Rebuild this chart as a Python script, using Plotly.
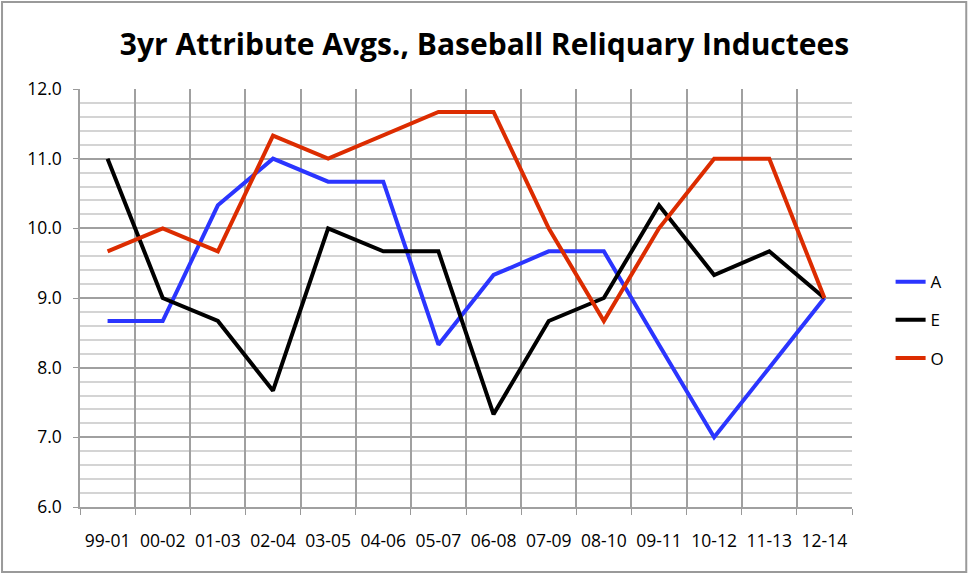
import plotly.graph_objects as go

periods = ["99-01", "00-02", "01-03", "02-04", "03-05", "04-06", "05-07",
           "06-08", "07-09", "08-10", "09-11", "10-12", "11-13", "12-14"]
a_vals = [8.67, 8.67, 10.33, 11.0, 10.67, 10.67, 8.33, 9.33, 9.67, 9.67, 8.33, 7.0, 8.0, 9.0]
e_vals = [11.0, 9.0, 8.67, 7.67, 10.0, 9.67, 9.67, 7.33, 8.67, 9.0, 10.33, 9.33, 9.67, 9.0]
o_vals = [9.67, 10.0, 9.67, 11.33, 11.0, 11.33, 11.67, 11.67, 10.0, 8.67, 10.0, 11.0, 11.0, 9.0]

font = "'Open Sans', sans-serif"

fig = go.Figure()

# one trace per attribute, each in its own legend group for spacing
for name, vals, col in [("A", a_vals, "#2b35ff"),
                        ("E", e_vals, "#000000"),
                        ("O", o_vals, "#dc2c00")]:
    fig.add_trace(go.Scatter(x=periods, y=vals, name=name, mode="lines",
                             legendgroup=name,
                             line=dict(color=col, width=4)))

fig.update_layout(
    width=969, height=575,
    margin=dict(l=80, r=117, t=89, b=68),
    plot_bgcolor="white", paper_bgcolor="white",
    font=dict(family=font, size=17.5, color="black"),
    title=dict(text="<b>3yr Attribute Avgs., Baseball Reliquary Inductees</b>",
               x=0.5, xanchor="center", y=0.922, yanchor="middle",
               font=dict(size=30, family=font)),
    legend=dict(x=1.05, y=0.447, xanchor="left", yanchor="middle",
                font=dict(size=17), tracegroupgap=13),
    showlegend=True,
)

fig.update_xaxes(
    type="category", tickson="boundaries", ticks="outside", ticklen=6,
    tickcolor="#999999", showgrid=True, gridcolor="#a0a0a0", gridwidth=1.5,
    showline=True, linecolor="#a0a0a0", linewidth=1.5, range=[-0.5, 13.5],
    zeroline=False, ticklabelstandoff=17,
)
fig.update_yaxes(
    range=[6, 12], dtick=1, tickformat=".1f", ticks="outside", ticklen=5,
    tickcolor="#999999", showgrid=True, gridcolor="#a0a0a0", gridwidth=1.5,
    showline=True, linecolor="#a0a0a0", linewidth=1.5, zeroline=False,
    minor=dict(dtick=0.2, showgrid=True, gridcolor="#d4d4d4", gridwidth=1.5),
    ticklabelstandoff=8,
)

# outer chart border
fig.add_shape(type="rect", xref="paper", yref="paper",
              x0=-0.101, x1=1.148, y0=-0.1555, y1=1.208,
              line=dict(color="#9a9a9a", width=2), fillcolor="rgba(0,0,0,0)")

fig.write_html("out.html", config={"displayModeBar": False},
               post_script="document.body.style.margin='0px';")
